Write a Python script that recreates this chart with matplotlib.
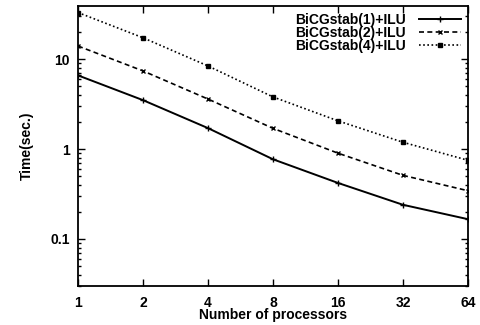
import matplotlib
matplotlib.use("Agg")
import matplotlib.pyplot as plt
from matplotlib.ticker import FixedLocator, NullFormatter, LogLocator

procs = [1, 2, 4, 8, 16, 32, 64]
t_bicg1 = [6.6, 3.5, 1.71, 0.77, 0.42, 0.24, 0.166]
t_bicg2 = [14.0, 7.4, 3.6, 1.7, 0.90, 0.51, 0.344]
t_bicg4 = [33.0, 17.3, 8.4, 3.8, 2.06, 1.19, 0.75]
labels = ["BiCGstab(1)+ILU", "BiCGstab(2)+ILU", "BiCGstab(4)+ILU"]

plt.rcParams['font.family'] = ['Liberation Sans', 'DejaVu Sans']
plt.rcParams['font.size'] = 10
plt.rcParams['font.weight'] = 'bold'
plt.rcParams['axes.labelweight'] = 'bold'

fig = plt.figure(figsize=(4.8, 3.25), dpi=100)
ax = fig.add_axes([0.1625, 0.12, 0.8125, 0.8615])

ax.plot(procs, t_bicg1, color="black", lw=1.4, ls="-", marker="+", ms=4, label=labels[0])
ax.plot(procs, t_bicg2, color="black", lw=1.2, ls=(0, (3, 2)), marker="x", ms=3.5, label=labels[1])
ax.plot(procs, t_bicg4, color="black", lw=1.2, ls=(0, (1, 1.5)), marker="s", ms=3, label=labels[2])

ax.set_xscale("log", base=2)
ax.set_yscale("log")
ax.set_xlim(1, 64)
ax.set_ylim(0.03, 39)
ax.xaxis.set_major_locator(FixedLocator(procs))
ax.set_xticklabels([str(p) for p in procs])
ax.xaxis.set_minor_formatter(NullFormatter())
ax.set_yticks([0.1, 1, 10])
ax.set_yticklabels(["0.1", "1", "10"])
ax.yaxis.set_minor_locator(LogLocator(base=10, subs=range(2, 10)))
ax.yaxis.set_minor_formatter(NullFormatter())

ax.tick_params(which="both", direction="in", top=True, right=True, width=1)
ax.tick_params(which="major", length=5)
ax.tick_params(which="minor", length=2.5)
ax.tick_params(axis="x", pad=7)
ax.tick_params(axis="y", pad=6)
for s in ax.spines.values():
    s.set_linewidth(1.3)

ax.set_xlabel("Number of processors", labelpad=-1)
ax.set_ylabel("Time(sec.)", labelpad=12)

ax.legend(loc="upper right", frameon=False, markerfirst=False, fontsize=10,
          handlelength=3.0, borderaxespad=0.2, labelspacing=-0.08,
          handletextpad=1.0, borderpad=0.3)

fig.savefig("out.png", dpi=100)
